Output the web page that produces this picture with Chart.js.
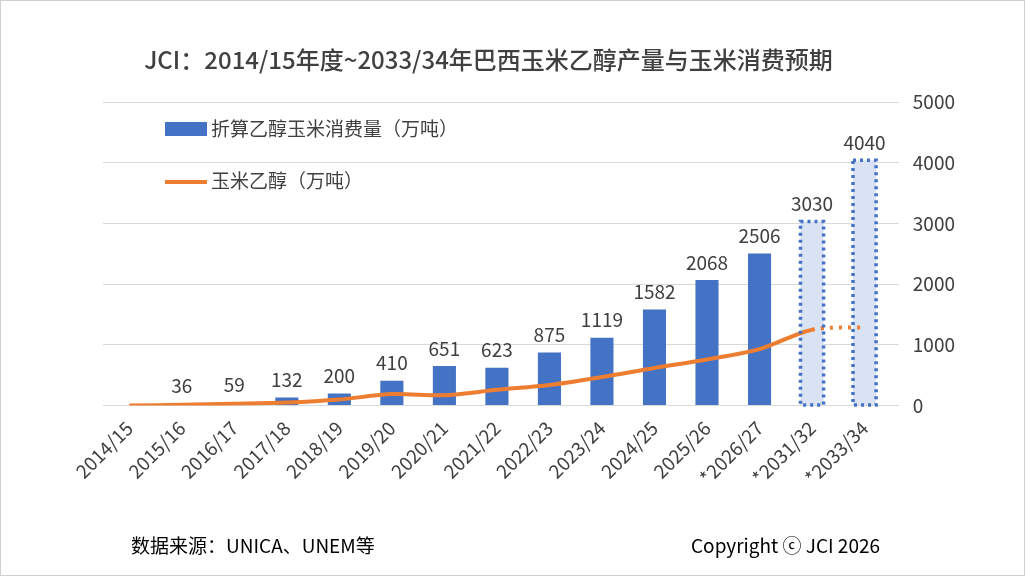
<!DOCTYPE html>
<html><head><meta charset="utf-8">
<script src="https://cdn.jsdelivr.net/npm/chart.js@4"></script>
<style>
body{margin:0;background:#fff;font-family:"Noto Sans CJK SC","Noto Sans",sans-serif}
#wrap{position:relative;width:1023px;height:574px;border:1px solid #d0d0d0}
.foot{position:absolute;top:530px;font-size:19px;color:#000}
#title{position:absolute;top:40px;left:0;width:975px;text-align:center;font-size:24px;font-weight:500;color:#404040}
</style></head><body>
<div id="wrap">
<canvas id="c" width="1023" height="574"></canvas>
<div id="title">JCI：2014/15年度~2033/34年巴西玉米乙醇产量与玉米消费预期</div>
<div class="foot" style="left:130px">数据来源：UNICA、UNEM等</div>
<div class="foot" style="left:690px">Copyright ⓒ JCI 2026</div>
</div>
<script>
const seasons = ["2014/15","2015/16","2016/17","2017/18","2018/19","2019/20","2020/21","2021/22","2022/23","2023/24","2024/25","2025/26","*2026/27","*2031/32","*2033/34"];
const cornUse = [0,36,59,132,200,410,651,623,875,1119,1582,2068,2506,3030,4040];
const ethanol = [0,15,30,50,100,190,170,260,340,470,620,760,930,1250,1290];
const yTicks = [0,1000,2000,3000,4000,5000];
const forecastFrom = 13;

const labelPlugin = {
  id: "labels",
  afterDatasetsDraw(chart) {
    const ctx = chart.ctx;
    const meta = chart.getDatasetMeta(0);
    ctx.save();
    // dotted outline on forecast bars
    ctx.strokeStyle = "#4472C4";
    ctx.lineWidth = 3.5;
    ctx.setLineDash([3, 4]);
    meta.data.forEach((bar, i) => {
      if (i < forecastFrom) return;
      ctx.strokeRect(bar.x - bar.width / 2, bar.y, bar.width, bar.base - bar.y);
    });
    ctx.setLineDash([]);
    ctx.font = "19px 'Noto Sans CJK SC'";
    ctx.fillStyle = "#404040";
    ctx.textAlign = "center";
    ctx.textBaseline = "bottom";
    meta.data.forEach((bar, i) => {
      if (!cornUse[i]) return;
      ctx.fillText(cornUse[i], bar.x, bar.y - 8);
    });
    // legend inside plot
    const a = chart.chartArea;
    ctx.textAlign = "left";
    ctx.textBaseline = "middle";
    ctx.fillStyle = "#4472C4";
    ctx.fillRect(a.left + 62, 121, 42, 14);
    ctx.fillStyle = "#404040";
    ctx.fillText("折算乙醇玉米消费量（万吨）", a.left + 108, 128);
    ctx.strokeStyle = "#ED7D31";
    ctx.lineWidth = 4;
    ctx.beginPath(); ctx.moveTo(a.left + 62, 181); ctx.lineTo(a.left + 104, 181); ctx.stroke();
    ctx.fillText("玉米乙醇（万吨）", a.left + 108, 180);
    ctx.restore();
  }
};

new Chart(document.getElementById("c"), {
  data: {
    labels: seasons,
    datasets: [
      {
        type: "bar",
        data: cornUse,
        backgroundColor: cornUse.map((v, i) => i >= forecastFrom ? "#DAE3F3" : "#4472C4"),
        borderWidth: 0,
        barPercentage: 0.44,
        categoryPercentage: 1,
        order: 2
      },
      {
        type: "line",
        data: ethanol,
        borderColor: "#ED7D31",
        borderWidth: 4,
        pointRadius: 0,
        tension: 0.3,
        segment: { borderDash: c => c.p0DataIndex >= forecastFrom ? [3, 6] : undefined },
        order: 1
      }
    ]
  },
  options: {
    responsive: false,
    animation: false,
    layout: { padding: { left: 102, right: 55, top: 101, bottom: 83 } },
    plugins: {
      legend: { display: false },
      tooltip: { enabled: false }
    },
    scales: {
      x: {
        grid: { display: false },
        border: { color: "#d9d9d9" },
        ticks: { color: "#404040", maxRotation: 45, minRotation: 45, font: { family: "'Noto Sans CJK SC'", size: 19 } }
      },
      y: {
        position: "right",
        min: 0, max: 5000,
        afterBuildTicks: ax => { ax.ticks = yTicks.map(v => ({ value: v })); },
        grid: { color: "#d9d9d9" },
        border: { display: false },
        ticks: { color: "#404040", padding: 14, callback: v => String(v), font: { family: "'Noto Sans CJK SC'", size: 19 } }
      }
    }
  },
  plugins: [labelPlugin]
});
</script>
</body></html>
